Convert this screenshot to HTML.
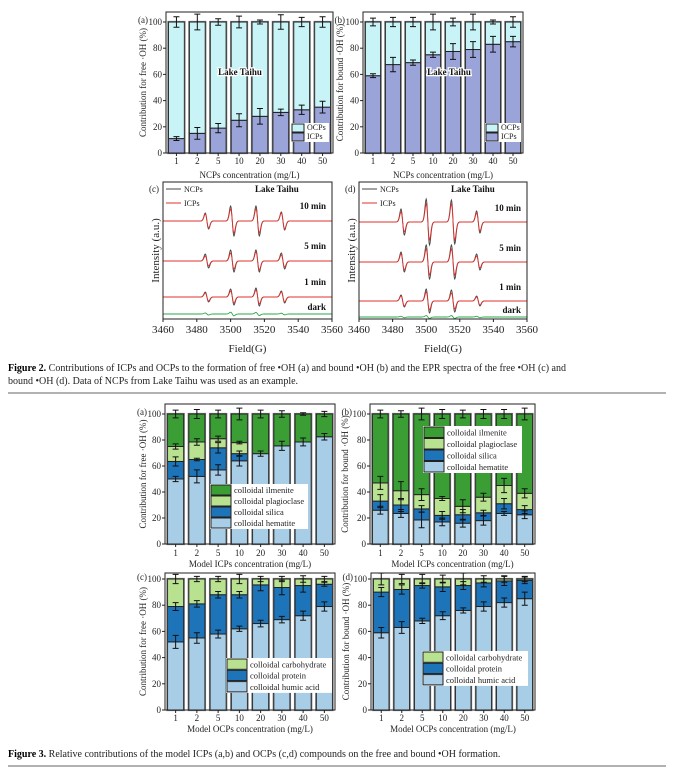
<!DOCTYPE html>
<html><head><meta charset="utf-8">
<style>
html,body{margin:0;padding:0;background:#fff;}
svg{display:block;font-family:"Liberation Serif",serif;}
</style></head>
<body>
<svg id="fig" width="674" height="772" viewBox="0 0 674 772" xmlns="http://www.w3.org/2000/svg">
<g id="layer"></g>
<text x="8" y="371" font-size="10" fill="#222"><tspan font-weight="bold" fill="#000">Figure 2.</tspan> Contributions of ICPs and OCPs to the formation of free •OH (a) and bound •OH (b) and the EPR spectra of the free •OH (c) and</text>
<text x="8" y="384" font-size="10" fill="#222">bound •OH (d). Data of NCPs from Lake Taihu was used as an example.</text>
<line x1="8" x2="666" y1="393" y2="393" stroke="#333" stroke-width="0.8"/>
<text x="8" y="757" font-size="10" fill="#222"><tspan font-weight="bold" fill="#000">Figure 3.</tspan> Relative contributions of the model ICPs (a,b) and OCPs (c,d) compounds on the free and bound •OH formation.</text>
<line x1="8" x2="666" y1="766" y2="766" stroke="#333" stroke-width="0.8"/>
</svg>
<script>
const cats = ["1","2","5","10","20","30","40","50"];
const yTicks = [0,20,40,60,80,100];
// Fig 2 (a,b): ICPs share (%); OCPs fills to 100
const icpFree = [11,15,19,25,28,31,33,35];
const icpFreeErr = [1.5,4.5,3.5,5,6,2.5,3.5,4.5];
const ocpFreeErr = [4,6,2.5,4.5,1.5,5.5,3.5,4];
const icpBound = [59,67.5,69,75,77.5,79,83,85];
const icpBoundErr = [1.5,5.5,2,2,6,6,6,4];
const ocpBoundErr = [3,3.5,3.5,6,3,6,1.5,4];
// Fig 3 (a): free, model ICPs (cumulative tops)
const hemFree = [50,52,57,64,69.5,75.5,78.5,82.5];
const silFree = [63.5,65,74,69.5,69.5,75.5,78.5,82.5];
const plaFree = [75,78.5,81,78,69.5,75.5,78.5,82.5];
const hemFreeErr = [2,5,4,4,2,3.5,3,2.5];
const silFreeErr = [3.5,1,4,2,0,0,0,0];
const plaFreeErr = [2,2.5,2,1,0,0,0,0];
const ilmFreeErr = [3,3.5,3,4.5,3,2.5,1,2];
// Fig 3 (b): bound, model ICPs
const hemBound = [26,23.5,18.5,17,16,18,23.5,22.5];
const silBound = [33,30,27,22,22.5,24,31,26.5];
const plaBound = [47,41,38,35,29,36,45,39];
const hemBoundErr = [3,3,6,3,3,3.5,1.5,3];
const silBoundErr = [5,5,2.5,3,4,2,4,3];
const plaBoundErr = [5,7,4.5,1.5,5,3,5.5,3.5];
const ilmBoundErr = [3,2.5,4.5,3.5,3,3.5,3.5,4.5];
// Fig 3 (c): free, model OCPs
const humFree = [52,55,58,62,66,69,72,79];
const proFree = [79,81,88,88,95.5,93.5,95,96];
const humFreeErr = [5,4,3,2,2.5,2.5,3.5,3.5];
const proFreeErr = [3,2.5,2.5,2.5,4.5,5.5,5,1.5];
const carFreeErr = [3.5,2,2,3.5,2,2,2.5,2];
// Fig 3 (d): bound, model OCPs
const humBound = [59,63,68,72,76,79,82,85];
const proBound = [90,92,95,94,95,97,98.5,99];
const humBoundErr = [4,4.5,2,3,2,3.5,3.5,5];
const proBoundErr = [3.5,3.5,2,3.5,3,3,3.5,2.5];
const carBoundErr = [4.5,3.5,3.5,3,4.5,2.5,2.5,2];
// EPR spectra: peak fields (G) and amplitudes (a.u.)
const eprTicks = [3460,3480,3500,3520,3540,3560];
const peakFields = [3486,3501,3516,3531];
const cNcp10 = [8,15,15,9], cIcp10 = [7,12,12,8];
const cNcp5 = [7,11,11,8], cIcp5 = [5,8,9,6];
const cNcp1 = [5,8,9,6], cIcp1 = [4,6,7,5];
const dNcp10 = [13,23,22,11], dIcp10 = [10,18,18,9];
const dNcp5 = [10,17,17,8], dIcp5 = [8,13,13,6];
const dNcp1 = [6,12,11,5], dIcp1 = [5,9,8,4];
const darkC = [1,1.8,1.5,0.8], darkD = [0.7,1.4,1.4,0.7];

const NS="http://www.w3.org/2000/svg";
const layer=document.getElementById('layer');
function mk(tag,attrs,parent){const e=document.createElementNS(NS,tag);for(const k in attrs)e.setAttribute(k,attrs[k]);(parent||layer).appendChild(e);return e;}
function txt(s,attrs,parent){const e=mk('text',attrs,parent);e.textContent=s;return e;}

function barPanel(P){
  const g=mk('g',{});
  
  
  const ys=v=>P.y0+(P.y100-P.y0)*v/100;
  const step=(P.x1-P.x0)/cats.length, bw=step*0.76;
  cats.forEach((c,i)=>{
    const cx=P.x0+step*(i+0.5);
    let prev=0;
    P.layers.forEach((L,li)=>{
      const top=L.vals?L.vals[i]:100;
      if(top>prev){
        const r=mk('rect',{x:cx-bw/2,y:ys(top),width:bw,height:ys(prev)-ys(top),fill:L.color,stroke:'#222','stroke-width':1},g);
        
        
      }
      prev=Math.max(prev,top);
    });
    const o=mk('rect',{x:cx-bw/2-0.7,y:ys(100)-0.7,width:bw+1.4,height:ys(0)-ys(100)+1.4,fill:'none',stroke:'#666','stroke-width':0.8},g);
    
    
    P.layers.forEach(L=>{
      if(!L.err) return;
      const v=L.vals?L.vals[i]:100, e=L.err[i];
      if(!e) return;
      const p=mk('path',{d:`M${cx} ${ys(v+e)}V${ys(v-e)}M${cx-3} ${ys(v+e)}H${cx+3}M${cx-3} ${ys(v-e)}H${cx+3}`,stroke:'#111','stroke-width':1,fill:'none'},g);
      
      
    });
    const t=txt(c,{x:cx,y:P.y0+P.tickDy,'font-size':9,'text-anchor':'middle',fill:'#222'},g);
    
    
    mk('line',{x1:cx,x2:cx,y1:P.y0,y2:P.y0+3,stroke:'#222'},g);
  });
  const fr=mk('rect',{x:P.x0,y:P.ftop,width:P.x1-P.x0,height:P.y0-P.ftop,fill:'none',stroke:'#222','stroke-width':1},g);
  
  
  yTicks.forEach(v=>{
    mk('line',{x1:P.x0-3,x2:P.x0,y1:ys(v),y2:ys(v),stroke:'#222'},g);
    const t=txt(String(v),{x:P.x0-4,y:ys(v)+3,'font-size':9,'text-anchor':'end',fill:'#222'},g);
    
    
  });
  const pl=txt(P.label,{x:P.x0-18,y:ys(100)+1,'font-size':9,'text-anchor':'end',fill:'#222'},g);
  
  
  const yt=txt(P.ytitle,{x:0,y:0,'font-size':9,'text-anchor':'middle',fill:'#222',transform:`translate(${P.ytx},${(P.y0+P.ftop)/2}) rotate(-90)`},g);
  
  
  if(P.xtitle){const xt=txt(P.xtitle,{x:(P.x0+P.x1)/2,y:P.xty,'font-size':9,'text-anchor':'middle',fill:'#222'},g);
  
  }
  if(P.note){const n=txt(P.note,{x:P.noteX,y:P.noteY,'font-size':9,'font-weight':'bold','text-anchor':'middle',fill:'#111',stroke:'#fff','stroke-width':2.5,'paint-order':'stroke'},g);
  
  }
  const Lg=P.legend; const lg=mk('g',{},g);
  
  
  mk('rect',{x:Lg.x-1,y:Lg.y-1,width:Lg.w,height:Lg.items.length*Lg.h+1,fill:'#fff',stroke:'none'},lg);
  Lg.items.forEach((it,k)=>{
    const y=Lg.y+k*Lg.h;
    mk('rect',{x:Lg.x,y:y,width:Lg.sw,height:Lg.h-1,fill:it.color,stroke:'#222','stroke-width':1},lg);
    const t=txt(it.name,{x:Lg.x+Lg.sw+3,y:y+Lg.h-3,'font-size':Lg.fs,fill:'#222'},lg);
    
    
  });
}

const CY='#c8f3f7', PER='#9ba4d8';
barPanel({name:'fig2a-free-oh-bars',x0:166,x1:333,y0:153,y100:22,ftop:12,tickDy:11,label:'(a)',ytx:146,ytitle:'Contribution for free ·OH (%)',xtitle:'NCPs concentration (mg/L)',xty:178,note:'Lake Taihu',noteX:240,noteY:75,
 layers:[{key:'icps',vals:icpFree,color:PER,err:icpFreeErr},{key:'ocps',vals:null,color:CY,err:ocpFreeErr}],
 legend:{x:292,y:124,h:9,sw:12,fs:8,w:38,items:[{name:'OCPs',color:CY},{name:'ICPs',color:PER}]}});
barPanel({name:'fig2b-bound-oh-bars',x0:363,x1:523,y0:153,y100:22,ftop:12,tickDy:11,label:'(b)',ytx:343,ytitle:'Contribution for bound ·OH (%)',xtitle:'NCPs concentration (mg/L)',xty:178,note:'Lake Taihu',noteX:449,noteY:75,
 layers:[{key:'icps',vals:icpBound,color:PER,err:icpBoundErr},{key:'ocps',vals:null,color:CY,err:ocpBoundErr}],
 legend:{x:486,y:124,h:9,sw:12,fs:8,w:36,items:[{name:'OCPs',color:CY},{name:'ICPs',color:PER}]}});

const GR='#3b9e35', LG='#b8e190', BL='#1e74b9', LB='#a8cde6';
const icpItems=[{name:'colloidal ilmenite',color:GR},{name:'colloidal plagioclase',color:LG},{name:'colloidal silica',color:BL},{name:'colloidal hematite',color:LB}];
const ocpItems=[{name:'colloidal carbohydrate',color:LG},{name:'colloidal protein',color:BL},{name:'colloidal humic acid',color:LB}];
barPanel({name:'fig3a-model-icps-free',x0:165,x1:335,y0:544,y100:414,ftop:404,tickDy:12,label:'(a)',ytx:146,ytitle:'Contribution for free ·OH (%)',xtitle:'Model ICPs concentration (mg/L)',xty:567,
 layers:[{key:'hematite',vals:hemFree,color:LB,err:hemFreeErr},{key:'silica',vals:silFree,color:BL,err:silFreeErr},{key:'plagioclase',vals:plaFree,color:LG,err:plaFreeErr},{key:'ilmenite',vals:null,color:GR,err:ilmFreeErr}],
 legend:{x:211,y:485,h:11,sw:20,fs:8.5,w:98,items:icpItems}});
barPanel({name:'fig3b-model-icps-bound',x0:370,x1:535,y0:544,y100:414,ftop:404,tickDy:12,label:'(b)',ytx:348,ytitle:'Contribution for bound ·OH  (%)',xtitle:'Model ICPs concentration (mg/L)',xty:567,
 layers:[{key:'hematite',vals:hemBound,color:LB,err:hemBoundErr},{key:'silica',vals:silBound,color:BL,err:silBoundErr},{key:'plagioclase',vals:plaBound,color:LG,err:plaBoundErr},{key:'ilmenite',vals:null,color:GR,err:ilmBoundErr}],
 legend:{x:424,y:427,h:11.5,sw:20,fs:8.5,w:99,items:icpItems}});
barPanel({name:'fig3c-model-ocps-free',x0:165,x1:335,y0:710,y100:579,ftop:573,tickDy:11,label:'(c)',ytx:146,ytitle:'Contribution for free ·OH (%)',xtitle:'Model OCPs concentration (mg/L)',xty:732,
 layers:[{key:'humic',vals:humFree,color:LB,err:humFreeErr},{key:'protein',vals:proFree,color:BL,err:proFreeErr},{key:'carbohydrate',vals:null,color:LG,err:carFreeErr}],
 legend:{x:227,y:659,h:11.3,sw:20,fs:8.5,w:106,items:ocpItems}});
barPanel({name:'fig3d-model-ocps-bound',x0:371,x1:535,y0:710,y100:579,ftop:573,tickDy:11,label:'(d)',ytx:349,ytitle:'Contribution for bound ·OH (%)',xtitle:'Model OCPs concentration (mg/L)',xty:732,
 layers:[{key:'humic',vals:humBound,color:LB,err:humBoundErr},{key:'protein',vals:proBound,color:BL,err:proBoundErr},{key:'carbohydrate',vals:null,color:LG,err:carBoundErr}],
 legend:{x:423,y:652,h:11.3,sw:20,fs:8.5,w:106,items:ocpItems}});

function eprPanel(P){
  const g=mk('g',{});
  
  
  const xs=f=>P.x0+(P.x1-P.x0)*(f-3460)/100;
  function trace(amps,base,color,name,w){
    let d='';
    for(let f=3460;f<=3560;f+=0.25){
      let v=0;
      peakFields.forEach((p,k)=>{const u=(f-p)/1.0;v+=amps[k]*(-u)*Math.exp(-u*u/2)*1.6487;});
      d+=(d?'L':'M')+xs(f).toFixed(2)+' '+(base-v).toFixed(2);
    }
    const p=mk('path',{d:d,fill:'none',stroke:color,'stroke-width':w||0.9},g);
    
    
  }
  P.traces.forEach(t=>{trace(t.ncp,t.base,'#444','ncps-trace-'+t.lab);trace(t.icp,t.base,'#e0322d','icps-trace-'+t.lab);
    const l=txt(t.lab,{x:P.x1-6,y:t.base-P.labDy,'font-size':9,'font-weight':'bold','text-anchor':'end',fill:'#111'},g);
    
    });
  trace(P.dark,P.darkBase,'#2aa84a','dark-trace');
  const dl=txt('dark',{x:P.x1-6,y:P.darkBase-4,'font-size':9,'font-weight':'bold','text-anchor':'end',fill:'#111'},g);
  
  
  const fr=mk('rect',{x:P.x0,y:P.ftop,width:P.x1-P.x0,height:P.y0-P.ftop,fill:'none',stroke:'#222'},g);
  
  
  eprTicks.forEach(f=>{mk('line',{x1:xs(f),x2:xs(f),y1:P.y0,y2:P.y0+3,stroke:'#222'},g);
    const t=txt(String(f),{x:xs(f),y:P.y0+14,'font-size':11,'text-anchor':'middle',fill:'#222'},g);
    
    });
  const xt=txt('Field(G)',{x:(P.x0+P.x1)/2,y:P.y0+33,'font-size':11,'text-anchor':'middle',fill:'#222'},g);
  
  
  const yt=txt('Intensity (a.u.)',{x:0,y:0,'font-size':11,'text-anchor':'middle',fill:'#222',transform:`translate(${P.x0-4},${(P.y0+P.ftop)/2}) rotate(-90)`},g);
  
  
  const pl=txt(P.label,{x:P.x0-14,y:P.ftop+10,'font-size':9,fill:'#222'},g);
  
  
  const lt=txt('Lake Taihu',{x:P.x0+92,y:P.ftop+10,'font-size':9,'font-weight':'bold',fill:'#111'},g);
  
  
  [['NCPs','#444',0],['ICPs','#e0322d',14]].forEach(([n,c,dy])=>{
    mk('line',{x1:P.x0+3,x2:P.x0+18,y1:P.ftop+7+dy,y2:P.ftop+7+dy,stroke:c},g);
    const t=txt(n,{x:P.x0+21,y:P.ftop+10+dy,'font-size':8,fill:'#222'},g);
    
    
  });
}
eprPanel({name:'fig2c-epr-free',label:'(c)',x0:163,x1:332,ftop:182,y0:319,labDy:12,darkBase:314,dark:darkC,
 traces:[{lab:'10 min',base:221,ncp:cNcp10,icp:cIcp10},{lab:'5 min',base:261,ncp:cNcp5,icp:cIcp5},{lab:'1 min',base:297,ncp:cNcp1,icp:cIcp1}]});
eprPanel({name:'fig2d-epr-bound',label:'(d)',x0:359,x1:527,ftop:182,y0:319,labDy:11,darkBase:317,dark:darkD,
 traces:[{lab:'10 min',base:222,ncp:dNcp10,icp:dIcp10},{lab:'5 min',base:262,ncp:dNcp5,icp:dIcp5},{lab:'1 min',base:301,ncp:dNcp1,icp:dIcp1}]});
</script>
</body></html>
